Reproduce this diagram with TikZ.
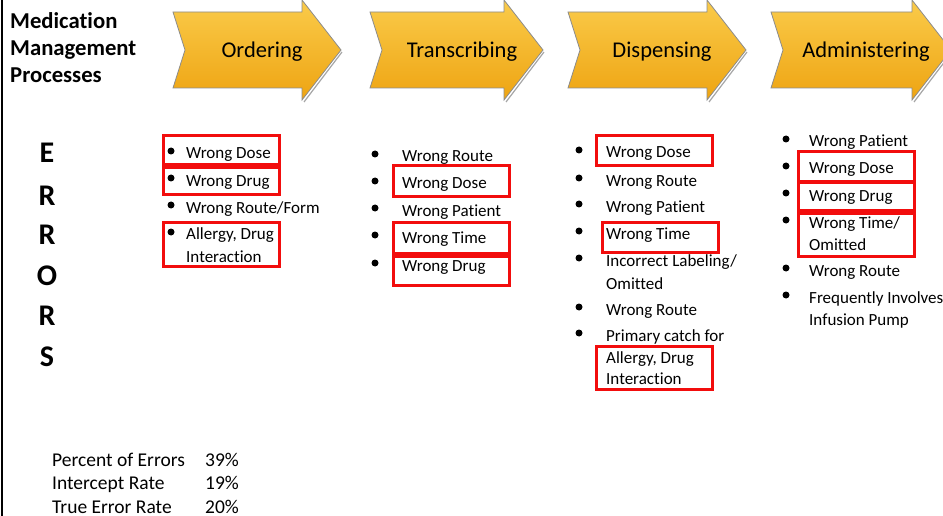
\documentclass[tikz,border=0pt]{standalone}
\usepackage{fontspec}
\setmainfont{Carlito}[Ligatures=NoCommon]
\begin{document}
\begin{tikzpicture}[x=1pt,y=-1pt,
  chevron/.style={draw=black!45, line width=0.8pt, top color=goldtop, bottom color=goldbot},
  chevshadow/.style={draw=black!35, line width=1.2pt},
  steplabel/.style={font=\fontsize{22.5}{26}\selectfont, anchor=base, inner sep=0pt},
  headline/.style={font=\bfseries\fontsize{22.7}{26}\selectfont, anchor=base west, inner sep=0pt},
  errletter/.style={font=\bfseries\fontsize{30}{34}\selectfont, anchor=base, inner sep=0pt},
  item/.style={font=\fontsize{17}{20}\selectfont, anchor=base west, inner sep=0pt},
  stat/.style={font=\fontsize{19.5}{22}\selectfont, anchor=base west, inner sep=0pt},
  dot/.style={circle, fill=black, inner sep=0pt, minimum size=7pt},
  redbox/.style={draw=boxred, line width=3pt}
]
\definecolor{goldtop}{HTML}{FACB4A}
\definecolor{goldbot}{HTML}{EEA412}
\definecolor{boxred}{HTML}{F20D0D}
\useasboundingbox (0,0) rectangle (943,516);

% left frame line
\draw[line width=2.2pt] (2,0) -- (2,516);

% process chevrons: body left x, head base x
\foreach \xl/\xb [count=\i] in {173/302, 370/504, 568/707, 771/912}{
  \draw[chevshadow] (\xb+2,102) -- (\xb+40,52);
  \path[chevron] (\xl,12) -- (\xb,12) -- (\xb,0) -- (\xb+39,50) -- (\xb,100)
     -- (\xb,88) -- (\xl,88) -- (\xl+12,50) -- cycle;
}
\node[steplabel] (ord) at (262,58) {Ordering};
\node[steplabel] (tra) at (462,58) {Transcribing};
\node[steplabel] (dis) at (662,58) {Dispensing};
\node[steplabel] (adm) at (866,58) {Administering};

% heading
\node[headline] (h1) at (10,29) {Medication};
\node[headline] (h2) at (10,56) {Management};
\node[headline] (h3) at (10,83) {Processes};

% vertical ERRORS
\node[errletter] (e1) at (47,163) {E};
\node[errletter] (e2) at (47,205) {R};
\node[errletter] (e3) at (47,244) {R};
\node[errletter] (e4) at (47,285) {O};
\node[errletter] (e5) at (47,325) {R};
\node[errletter] (e6) at (47,366) {S};

% Ordering errors
\foreach \y in {153,180,207,234} \node[dot] at (171,\y-2) {};
\node[item] (o1) at (186,159) {Wrong Dose};
\node[item] (o2) at (186,186) {Wrong Drug};
\node[item] (o3) at (186,213) {Wrong Route/Form};
\node[item] (o4) at (186,240) {Allergy, Drug};
\node[item] (o5) at (186,262) {Interaction};
\draw[redbox] (163,136) rectangle (279,165);
\draw[redbox] (163,168) rectangle (279,195);
\draw[redbox] (163,222) rectangle (279,266);

% Transcribing errors
\foreach \y in {156,183,210,237,265} \node[dot] at (375,\y-2) {};
\node[item] (t1) at (402,162) {Wrong Route};
\node[item] (t2) at (402,189) {Wrong Dose};
\node[item] (t3) at (402,216) {Wrong Patient};
\node[item] (t4) at (402,243) {Wrong Time};
\node[item] (t5) at (402,271) {Wrong Drug};
\draw[redbox] (393,166) rectangle (509,197);
\draw[redbox] (393,222) rectangle (509,253);
\draw[redbox] (393,256) rectangle (509,285);

% Dispensing errors
\foreach \y in {152,180,206,233,260,309,335} \node[dot] at (579,\y-2) {};
\node[item] (d1) at (606,158) {Wrong Dose};
\node[item] (d2) at (606,186) {Wrong Route};
\node[item] (d3) at (606,212) {Wrong Patient};
\node[item] (d4) at (606,239) {Wrong Time};
\node[item] (d5) at (606,266) {Incorrect Labeling/};
\node[item] (d6) at (606,289) {Omitted};
\node[item] (d7) at (606,315) {Wrong Route};
\node[item] (d8) at (606,341) {Primary catch for};
\node[item] (d9) at (606,363) {Allergy, Drug};
\node[item] (d10) at (606,384) {Interaction};
\draw[redbox] (596,136) rectangle (712,166);
\draw[redbox] (602,222) rectangle (718,252);
\draw[redbox] (596,346) rectangle (712,389);

% Administering errors
\foreach \y in {141,168,195,222,270,297} \node[dot] at (786,\y-2) {};
\node[item] (a1) at (809,147) {Wrong Patient};
\node[item] (a2) at (809,174) {Wrong Dose};
\node[item] (a3) at (809,201) {Wrong Drug};
\node[item] (a4) at (809,228) {Wrong Time/};
\node[item] (a5) at (809,250) {Omitted};
\node[item] (a6) at (809,276) {Wrong Route};
\node[item] (a7) at (809,303) {Frequently Involves};
\node[item] (a8) at (809,325) {Infusion Pump};
\draw[redbox] (798,152) rectangle (914,182);
\draw[redbox] (798,183) rectangle (914,210);
\draw[redbox] (798,213) rectangle (914,256);

% summary figures
\node[stat] (s1) at (52,466) {Percent of Errors};
\node[stat] (s2) at (52,489) {Intercept Rate};
\node[stat] (s3) at (52,513) {True Error Rate};
\node[stat] (p1) at (205,466) {39\%};
\node[stat] (p2) at (205,489) {19\%};
\node[stat] (p3) at (205,513) {20\%};
\end{tikzpicture}
\end{document}
